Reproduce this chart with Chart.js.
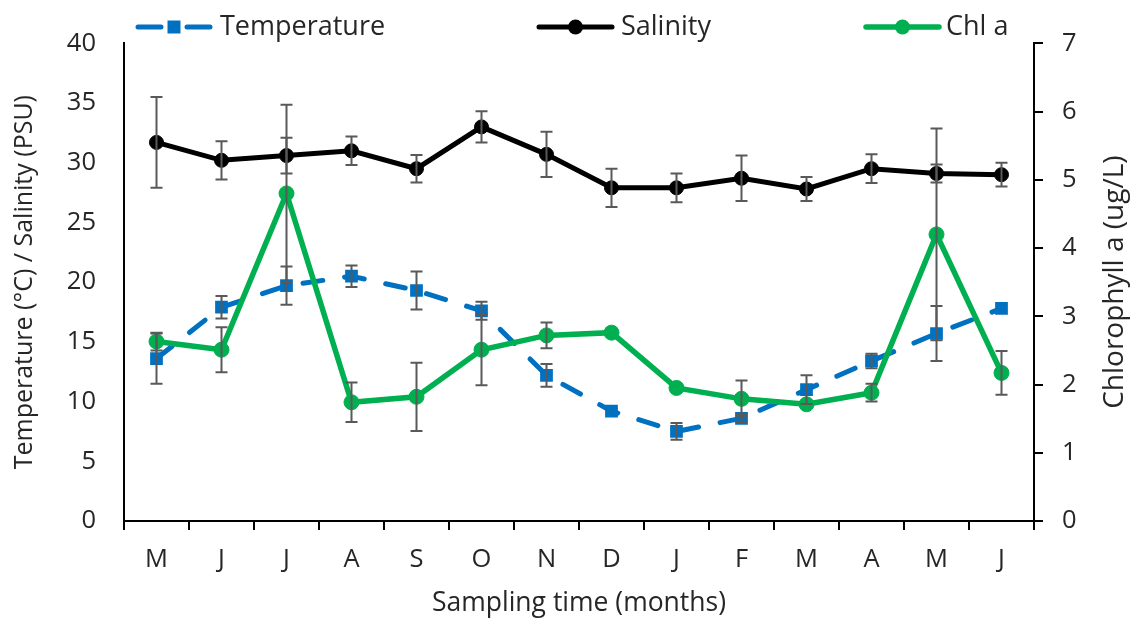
<!DOCTYPE html>
<html>
<head>
<meta charset="utf-8">
<title>Temperature, salinity and chlorophyll a</title>
<script src="https://cdn.jsdelivr.net/npm/chart.js@4.4.0/dist/chart.umd.min.js"></script>
<style>
  html, body { margin: 0; padding: 0; background: #fff; }
</style>
</head>
<body>
<canvas id="chart" width="1137" height="626"></canvas>
<script>
const months = ['M', 'J', 'J', 'A', 'S', 'O', 'N', 'D', 'J', 'F', 'M', 'A', 'M', 'J'];

const temperature    = [13.6, 17.9, 19.7, 20.5, 19.3, 17.6, 12.2, 9.2, 7.5, 8.6, 11.0, 13.4, 15.7, 17.8];
const temperatureErr = [2.1, 0.95, 1.6, 0.9, 1.6, 0.75, 0.95, 0, 0.7, 0.3, 1.2, 0.6, 2.3, 0];

const salinity    = [31.7, 30.2, 30.6, 31.0, 29.5, 33.0, 30.7, 27.9, 27.9, 28.7, 27.8, 29.5, 29.1, 29.0];
const salinityErr = [3.8, 1.6, 1.5, 1.2, 1.15, 1.3, 1.9, 1.6, 1.2, 1.9, 1.0, 1.2, 0.75, 1.0];

const chlA    = [2.63, 2.51, 4.80, 1.74, 1.82, 2.51, 2.72, 2.76, 1.95, 1.79, 1.71, 1.88, 4.20, 2.17];
const chlAErr = [0.13, 0.33, 1.3, 0.29, 0.5, 0.52, 0.19, 0, 0, 0.27, 0, 0.13, 1.55, 0.32];

const FONT = "'Open Sans', sans-serif";
const TEXT = '#262626';
const BLUE = '#0070C0';
const GREEN = '#00B050';

// vertical error bars, drawn through each dataset's own y scale
const errorBars = {
    id: 'errorBars',
    afterDatasetsDraw(chart) {
        const ctx = chart.ctx;
        chart.data.datasets.forEach((ds, i) => {
            if (!ds.errors) return;
            const meta = chart.getDatasetMeta(i);
            const scale = chart.scales[ds.yAxisID];
            ctx.save();
            ctx.strokeStyle = '#595959';
            ctx.lineWidth = 2;
            meta.data.forEach((pt, j) => {
                const e = ds.errors[j];
                if (!e) return;
                const top = scale.getPixelForValue(ds.data[j] + e);
                const bot = scale.getPixelForValue(ds.data[j] - e);
                ctx.beginPath();
                ctx.moveTo(pt.x, top); ctx.lineTo(pt.x, bot);
                ctx.moveTo(pt.x - 6, top); ctx.lineTo(pt.x + 6, top);
                ctx.moveTo(pt.x - 6, bot); ctx.lineTo(pt.x + 6, bot);
                ctx.stroke();
            });
            ctx.restore();
        });
    }
};

// legend spread across the top like the original, plus the right axis title
const extras = {
    id: 'extras',
    afterDraw(chart) {
        const ctx = chart.ctx;
        const y = 27;
        const items = [
            { ds: 0, x0: 138, x1: 210, tx: 220 },
            { ds: 1, x0: 539, x1: 612, tx: 621 },
            { ds: 2, x0: 866, x1: 939, tx: 946 }
        ];
        ctx.save();
        items.forEach(it => {
            const ds = chart.data.datasets[it.ds];
            const mid = (it.x0 + it.x1) / 2;
            ctx.strokeStyle = ds.borderColor;
            ctx.lineWidth = ds.borderWidth;
            ctx.lineCap = 'round';
            ctx.beginPath();
            if (ds.borderDash) {
                ctx.moveTo(it.x0, y); ctx.lineTo(mid - 13, y);
                ctx.moveTo(mid + 13, y); ctx.lineTo(it.x1, y);
            } else {
                ctx.moveTo(it.x0, y); ctx.lineTo(it.x1, y);
            }
            ctx.stroke();
            ctx.fillStyle = ds.pointBackgroundColor;
            ctx.beginPath();
            if (ds.pointStyle === 'rect') {
                ctx.rect(mid - 6.5, y - 6.5, 13, 13);
            } else {
                ctx.arc(mid, y, 7.5, 0, Math.PI * 2);
            }
            ctx.fill();
            ctx.fillStyle = TEXT;
            ctx.font = '27px ' + FONT;
            ctx.textBaseline = 'middle';
            ctx.textAlign = 'left';
            ctx.fillText(ds.label, it.tx, y);
        });

        ctx.translate(1115, (chart.chartArea.top + chart.chartArea.bottom) / 2);
        ctx.rotate(-Math.PI / 2);
        ctx.font = '28px ' + FONT;
        ctx.textAlign = 'center';
        ctx.textBaseline = 'middle';
        ctx.fillStyle = TEXT;
        ctx.fillText('Chlorophyll a (ug/L)', 0, 0);
        ctx.restore();
    }
};

new Chart(document.getElementById('chart'), {
    type: 'line',
    data: {
        labels: months,
        datasets: [
            {
                label: 'Temperature',
                data: temperature,
                errors: temperatureErr,
                yAxisID: 'y',
                order: 2,
                borderColor: BLUE,
                borderWidth: 5,
                borderDash: [20, 22],
                borderCapStyle: 'round',
                pointStyle: 'rect',
                pointRadius: 9,
                pointBackgroundColor: BLUE,
                pointBorderColor: BLUE,
                pointBorderWidth: 0
            },
            {
                label: 'Salinity',
                data: salinity,
                errors: salinityErr,
                yAxisID: 'y',
                order: 1,
                borderColor: '#000000',
                borderWidth: 5,
                pointRadius: 7,
                pointBackgroundColor: '#000000',
                pointBorderColor: '#000000',
                pointBorderWidth: 1
            },
            {
                label: 'Chl a',
                data: chlA,
                errors: chlAErr,
                yAxisID: 'y1',
                order: 0,
                borderColor: GREEN,
                borderWidth: 5.5,
                pointRadius: 7.5,
                pointBackgroundColor: GREEN,
                pointBorderColor: GREEN,
                pointBorderWidth: 1
            }
        ]
    },
    options: {
        responsive: false,
        devicePixelRatio: 1,
        animation: false,
        events: [],
        layout: { padding: { top: 21, left: 0, right: 0, bottom: 0 } },
        elements: { line: { tension: 0 } },
        plugins: {
            legend: { display: false },
            tooltip: { enabled: false }
        },
        scales: {
            x: {
                offset: true,
                grid: { display: true, drawOnChartArea: false, drawTicks: true, tickLength: 9, color: '#000', lineWidth: 2, offset: true },
                border: { display: true, color: '#000', width: 2 },
                ticks: { color: TEXT, font: { family: FONT, size: 25.5 }, padding: 14, maxRotation: 0, autoSkip: false },
                title: { display: true, text: 'Sampling time (months)', color: TEXT, font: { family: FONT, size: 26.5 }, padding: { top: 0, bottom: 7 } },
                afterFit(s) { s.height = 105; }
            },
            y: {
                position: 'left',
                min: 0,
                max: 40,
                grid: { display: true, drawOnChartArea: false, drawTicks: false },
                border: { display: true, color: '#000', width: 2 },
                ticks: { stepSize: 5, color: TEXT, font: { family: FONT, size: 25.5 }, padding: 28 },
                title: { display: true, text: 'Temperature (°C) / Salinity (PSU)', color: TEXT, font: { family: FONT, size: 25 }, padding: { top: 10, bottom: 0 } },
                afterFit(s) { s.width = 124; }
            },
            y1: {
                position: 'right',
                min: 0,
                max: 7,
                grid: { display: true, drawOnChartArea: false, drawTicks: true, tickLength: 9, color: '#000', lineWidth: 2 },
                border: { display: true, color: '#000', width: 2 },
                ticks: { stepSize: 1, color: TEXT, font: { family: FONT, size: 25.5 }, padding: 19 },
                afterFit(s) { s.width = 103; }
            }
        }
    },
    plugins: [errorBars, extras]
});
</script>
</body>
</html>
